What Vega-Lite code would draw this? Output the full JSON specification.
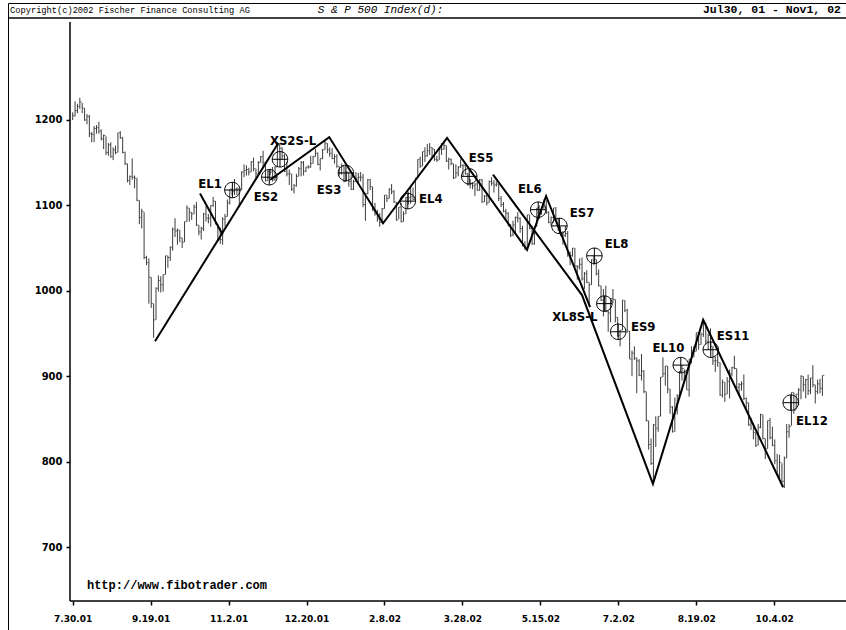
{
"$schema":"https://vega.github.io/schema/vega-lite/v6.json",
"width":845,"height":630,
"padding":{"left":8,"top":3,"right":0,"bottom":0},
"autosize":{"type":"none"},
"background":"white",
"config":{"view":{"stroke":"black","strokeWidth":1},
 "axisX":{"labelExpr":"['7.30.01','9.19.01','11.2.01','12.20.01','2.8.02','3.28.02','5.15.02','7.2.02','8.19.02','10.4.02'][round(datum.value/32.75)]",
    "domain":false,"grid":false,"offset":-32,"tickSize":4,"tickColor":"black","tickWidth":1.5,"labelPadding":9,
    "labelFont":"DejaVu Sans","labelFontWeight":"bold","labelFontSize":9,"labelColor":"black","labelOverlap":false,"titleOpacity":0},
 "axisY":{"domain":false,"grid":false,"offset":-62,"tickSize":4,"tickColor":"black","tickWidth":1.5,"labelPadding":4,
    "labelFont":"DejaVu Sans","labelFontWeight":"bold","labelFontSize":10,"labelColor":"black","titleOpacity":0}},
"datasets":{
"bars":[
{"i":0,"h":1209,"l":1200,"c":1205},{"i":1,"h":1222,"l":1204,"c":1211},{"i":2,"h":1219,"l":1208,"c":1216},{"i":3,"h":1226,"l":1213,"c":1221},{"i":4,"h":1220,"l":1208,"c":1214},
{"i":5,"h":1214,"l":1199,"c":1200},{"i":6,"h":1207,"l":1195,"c":1204},{"i":7,"h":1206,"l":1180,"c":1184},{"i":8,"h":1186,"l":1174,"c":1183},{"i":9,"h":1193,"l":1174,"c":1190},
{"i":10,"h":1194,"l":1184,"c":1191},{"i":11,"h":1198,"l":1184,"c":1187},{"i":12,"h":1189,"l":1176,"c":1178},{"i":13,"h":1183,"l":1166,"c":1182},{"i":14,"h":1181,"l":1159,"c":1162},
{"i":15,"h":1173,"l":1158,"c":1171},{"i":16,"h":1174,"l":1156,"c":1157},{"i":17,"h":1168,"l":1153,"c":1165},{"i":18,"h":1170,"l":1160,"c":1162},{"i":19,"h":1185,"l":1162,"c":1185},
{"i":20,"h":1187,"l":1178,"c":1179},{"i":21,"h":1180,"l":1161,"c":1162},{"i":22,"h":1163,"l":1147,"c":1149},{"i":23,"h":1149,"l":1127,"c":1129},{"i":24,"h":1135,"l":1124,"c":1134},
{"i":25,"h":1155,"l":1130,"c":1133},{"i":26,"h":1135,"l":1120,"c":1132},{"i":27,"h":1132,"l":1105,"c":1106},{"i":28,"h":1106,"l":1078,"c":1086},{"i":29,"h":1096,"l":1073,"c":1093},
{"i":30,"h":1092,"l":1037,"c":1039},{"i":31,"h":1041,"l":1030,"c":1033},{"i":32,"h":1038,"l":985,"c":1016},{"i":33,"h":1016,"l":980,"c":985},{"i":34,"h":985,"l":945,"c":966},
{"i":35,"h":1004,"l":966,"c":1003},{"i":36,"h":1018,"l":999,"c":1012},{"i":37,"h":1017,"l":998,"c":1007},{"i":38,"h":1019,"l":999,"c":1019},{"i":39,"h":1041,"l":1019,"c":1041},
{"i":40,"h":1041,"l":1027,"c":1039},{"i":41,"h":1052,"l":1035,"c":1051},{"i":42,"h":1074,"l":1047,"c":1072},{"i":43,"h":1085,"l":1063,"c":1070},{"i":44,"h":1073,"l":1054,"c":1071},
{"i":45,"h":1071,"l":1057,"c":1062},{"i":46,"h":1062,"l":1050,"c":1057},{"i":47,"h":1081,"l":1057,"c":1081},{"i":48,"h":1100,"l":1081,"c":1097},{"i":49,"h":1097,"l":1081,"c":1092},
{"i":50,"h":1092,"l":1083,"c":1090},{"i":51,"h":1101,"l":1090,"c":1098},{"i":52,"h":1104,"l":1076,"c":1077},{"i":53,"h":1077,"l":1065,"c":1069},{"i":54,"h":1075,"l":1060,"c":1073},
{"i":55,"h":1091,"l":1070,"c":1090},{"i":56,"h":1099,"l":1081,"c":1085},{"i":57,"h":1090,"l":1079,"c":1085},{"i":58,"h":1100,"l":1075,"c":1100},{"i":59,"h":1110,"l":1098,"c":1105},
{"i":60,"h":1105,"l":1078,"c":1078},{"i":61,"h":1078,"l":1058,"c":1060},{"i":62,"h":1074,"l":1055,"c":1060},{"i":63,"h":1086,"l":1054,"c":1084},{"i":64,"h":1090,"l":1075,"c":1087},
{"i":65,"h":1107,"l":1087,"c":1103},{"i":66,"h":1119,"l":1101,"c":1119},{"i":67,"h":1120,"l":1112,"c":1116},{"i":68,"h":1131,"l":1112,"c":1119},{"i":69,"h":1121,"l":1112,"c":1120},
{"i":70,"h":1120,"l":1098,"c":1118},{"i":71,"h":1140,"l":1118,"c":1139},{"i":72,"h":1148,"l":1133,"c":1141},{"i":73,"h":1147,"l":1135,"c":1142},{"i":74,"h":1144,"l":1135,"c":1139},
{"i":75,"h":1152,"l":1139,"c":1151},{"i":76,"h":1156,"l":1140,"c":1143},{"i":77,"h":1143,"l":1130,"c":1137},{"i":78,"h":1152,"l":1137,"c":1150},{"i":79,"h":1158,"l":1150,"c":1157},
{"i":80,"h":1164,"l":1144,"c":1150},{"i":81,"h":1150,"l":1128,"c":1129},{"i":82,"h":1141,"l":1129,"c":1140},{"i":83,"h":1143,"l":1135,"c":1139},{"i":84,"h":1145,"l":1128,"c":1130},
{"i":85,"h":1146,"l":1129,"c":1145},{"i":86,"h":1174,"l":1145,"c":1170},{"i":87,"h":1173,"l":1162,"c":1167},{"i":88,"h":1168,"l":1154,"c":1158},{"i":89,"h":1160,"l":1139,"c":1140},
{"i":90,"h":1151,"l":1134,"c":1137},{"i":91,"h":1142,"l":1124,"c":1137},{"i":92,"h":1137,"l":1117,"c":1119},{"i":93,"h":1125,"l":1114,"c":1123},{"i":94,"h":1137,"l":1122,"c":1134},
{"i":95,"h":1145,"l":1134,"c":1143},{"i":96,"h":1152,"l":1134,"c":1150},{"i":97,"h":1152,"l":1135,"c":1140},{"i":98,"h":1145,"l":1139,"c":1145},{"i":99,"h":1147,"l":1143,"c":1145},
{"i":100,"h":1158,"l":1144,"c":1149},{"i":101,"h":1158,"l":1149,"c":1157},{"i":102,"h":1166,"l":1157,"c":1161},{"i":103,"h":1162,"l":1147,"c":1148},{"i":104,"h":1155,"l":1141,"c":1155},
{"i":105,"h":1166,"l":1154,"c":1165},{"i":106,"h":1177,"l":1165,"c":1173},{"i":107,"h":1173,"l":1161,"c":1165},{"i":108,"h":1168,"l":1157,"c":1161},{"i":109,"h":1167,"l":1154,"c":1155},
{"i":110,"h":1160,"l":1149,"c":1157},{"i":111,"h":1160,"l":1144,"c":1146},{"i":112,"h":1146,"l":1135,"c":1138},{"i":113,"h":1149,"l":1136,"c":1146},{"i":114,"h":1146,"l":1127,"c":1128},
{"i":115,"h":1140,"l":1128,"c":1139},{"i":116,"h":1139,"l":1122,"c":1128},{"i":117,"h":1136,"l":1118,"c":1119},{"i":118,"h":1130,"l":1118,"c":1128},{"i":119,"h":1139,"l":1128,"c":1132},
{"i":120,"h":1138,"l":1127,"c":1133},{"i":121,"h":1139,"l":1128,"c":1133},{"i":122,"h":1137,"l":1098,"c":1101},{"i":123,"h":1114,"l":1082,"c":1114},{"i":124,"h":1131,"l":1113,"c":1130},
{"i":125,"h":1131,"l":1118,"c":1122},{"i":126,"h":1122,"l":1094,"c":1094},{"i":127,"h":1103,"l":1088,"c":1090},{"i":128,"h":1095,"l":1081,"c":1084},{"i":129,"h":1091,"l":1075,"c":1080},
{"i":130,"h":1097,"l":1080,"c":1096},{"i":131,"h":1112,"l":1096,"c":1112},{"i":132,"h":1112,"l":1104,"c":1108},{"i":133,"h":1120,"l":1108,"c":1119},{"i":134,"h":1125,"l":1113,"c":1116},
{"i":135,"h":1118,"l":1103,"c":1104},{"i":136,"h":1104,"l":1082,"c":1083},{"i":137,"h":1098,"l":1084,"c":1098},{"i":138,"h":1103,"l":1080,"c":1081},{"i":139,"h":1093,"l":1081,"c":1090},
{"i":140,"h":1110,"l":1090,"c":1109},{"i":141,"h":1116,"l":1101,"c":1109},{"i":142,"h":1123,"l":1102,"c":1110},{"i":143,"h":1121,"l":1106,"c":1107},{"i":144,"h":1132,"l":1106,"c":1132},
{"i":145,"h":1154,"l":1132,"c":1154},{"i":146,"h":1157,"l":1144,"c":1146},{"i":147,"h":1163,"l":1146,"c":1163},{"i":148,"h":1168,"l":1151,"c":1158},{"i":149,"h":1172,"l":1157,"c":1164},
{"i":150,"h":1173,"l":1159,"c":1168},{"i":151,"h":1168,"l":1155,"c":1166},{"i":152,"h":1166,"l":1152,"c":1154},{"i":153,"h":1158,"l":1151,"c":1153},{"i":154,"h":1166,"l":1153,"c":1166},
{"i":155,"h":1173,"l":1159,"c":1166},{"i":156,"h":1174,"l":1165,"c":1170},{"i":157,"h":1170,"l":1151,"c":1152},{"i":158,"h":1156,"l":1142,"c":1154},{"i":159,"h":1155,"l":1147,"c":1149},
{"i":160,"h":1149,"l":1131,"c":1132},{"i":161,"h":1148,"l":1132,"c":1138},{"i":162,"h":1146,"l":1134,"c":1145},{"i":163,"h":1154,"l":1144,"c":1147},{"i":164,"h":1148,"l":1134,"c":1147},
{"i":165,"h":1147,"l":1136,"c":1137},{"i":166,"h":1138,"l":1123,"c":1125},{"i":167,"h":1131,"l":1120,"c":1126},{"i":168,"h":1127,"l":1119,"c":1123},{"i":169,"h":1126,"l":1111,"c":1125},
{"i":170,"h":1131,"l":1117,"c":1118},{"i":171,"h":1131,"l":1117,"c":1130},{"i":172,"h":1131,"l":1103,"c":1104},{"i":173,"h":1112,"l":1104,"c":1111},{"i":174,"h":1114,"l":1100,"c":1103},
{"i":175,"h":1129,"l":1103,"c":1128},{"i":176,"h":1133,"l":1123,"c":1126},{"i":177,"h":1130,"l":1115,"c":1124},{"i":178,"h":1128,"l":1122,"c":1125},{"i":179,"h":1125,"l":1105,"c":1108},
{"i":180,"h":1111,"l":1098,"c":1101},{"i":181,"h":1104,"l":1092,"c":1093},{"i":182,"h":1096,"l":1084,"c":1091},{"i":183,"h":1092,"l":1076,"c":1076},{"i":184,"h":1078,"l":1063,"c":1065},
{"i":185,"h":1082,"l":1064,"c":1077},{"i":186,"h":1087,"l":1066,"c":1086},{"i":187,"h":1092,"l":1080,"c":1085},{"i":188,"h":1086,"l":1068,"c":1073},{"i":189,"h":1076,"l":1052,"c":1053},
{"i":190,"h":1058,"l":1048,"c":1049},{"i":191,"h":1089,"l":1050,"c":1089},{"i":192,"h":1089,"l":1072,"c":1073},{"i":193,"h":1076,"l":1054,"c":1055},{"i":194,"h":1075,"l":1054,"c":1075},
{"i":195,"h":1097,"l":1075,"c":1097},{"i":196,"h":1100,"l":1084,"c":1091},{"i":197,"h":1099,"l":1089,"c":1098},{"i":198,"h":1107,"l":1096,"c":1107},{"i":199,"h":1106,"l":1090,"c":1092},
{"i":200,"h":1093,"l":1079,"c":1080},{"i":201,"h":1087,"l":1076,"c":1086},{"i":202,"h":1097,"l":1080,"c":1097},{"i":203,"h":1098,"l":1083,"c":1084},{"i":204,"h":1085,"l":1070,"c":1075},
{"i":205,"h":1075,"l":1064,"c":1068},{"i":206,"h":1070,"l":1054,"c":1065},{"i":207,"h":1076,"l":1063,"c":1067},{"i":208,"h":1070,"l":1040,"c":1041},{"i":209,"h":1046,"l":1030,"c":1041},
{"i":210,"h":1050,"l":1040,"c":1050},{"i":211,"h":1050,"l":1028,"c":1029},{"i":212,"h":1030,"l":1013,"c":1028},{"i":213,"h":1038,"l":1025,"c":1031},{"i":214,"h":1039,"l":1012,"c":1014},
{"i":215,"h":1022,"l":1002,"c":1020},{"i":216,"h":1024,"l":1009,"c":1010},{"i":217,"h":1010,"l":982,"c":1007},{"i":218,"h":1037,"l":1007,"c":1036},{"i":219,"h":1041,"l":1030,"c":1037},
{"i":220,"h":1037,"l":1018,"c":1020},{"i":221,"h":1025,"l":1005,"c":1006},{"i":222,"h":1006,"l":988,"c":989},{"i":223,"h":1002,"l":970,"c":993},{"i":224,"h":1006,"l":975,"c":976},
{"i":225,"h":977,"l":952,"c":974},{"i":226,"h":991,"l":963,"c":991},{"i":227,"h":1002,"l":986,"c":990},{"i":228,"h":990,"l":963,"c":969},{"i":229,"h":969,"l":946,"c":948},
{"i":230,"h":954,"l":935,"c":954},{"i":231,"h":989,"l":954,"c":989},{"i":232,"h":989,"l":975,"c":977},{"i":233,"h":979,"l":951,"c":953},{"i":234,"h":953,"l":920,"c":920},
{"i":235,"h":930,"l":900,"c":927},{"i":236,"h":935,"l":919,"c":921},{"i":237,"h":922,"l":880,"c":918},{"i":238,"h":920,"l":900,"c":901},{"i":239,"h":926,"l":895,"c":906},
{"i":240,"h":907,"l":880,"c":882},{"i":241,"h":882,"l":847,"c":848},{"i":242,"h":848,"l":814,"c":820},{"i":243,"h":827,"l":796,"c":798},{"i":244,"h":844,"l":776,"c":843},
{"i":245,"h":853,"l":817,"c":839},{"i":246,"h":853,"l":835,"c":853},{"i":247,"h":899,"l":853,"c":899},{"i":248,"h":922,"l":899,"c":903},{"i":249,"h":912,"l":889,"c":912},
{"i":250,"h":912,"l":880,"c":885},{"i":251,"h":885,"l":856,"c":864},{"i":252,"h":865,"l":834,"c":835},{"i":253,"h":875,"l":835,"c":860},{"i":254,"h":879,"l":855,"c":877},
{"i":255,"h":906,"l":875,"c":905},{"i":256,"h":913,"l":895,"c":909},{"i":257,"h":908,"l":893,"c":904},{"i":258,"h":904,"l":884,"c":884},{"i":259,"h":920,"l":876,"c":920},
{"i":260,"h":935,"l":915,"c":930},{"i":261,"h":935,"l":922,"c":929},{"i":262,"h":951,"l":929,"c":951},{"i":263,"h":950,"l":931,"c":937},{"i":264,"h":951,"l":937,"c":949},
{"i":265,"h":965,"l":946,"c":963},{"i":266,"h":963,"l":937,"c":941},{"i":267,"h":950,"l":931,"c":948},{"i":268,"h":956,"l":931,"c":935},{"i":269,"h":935,"l":913,"c":918},
{"i":270,"h":923,"l":905,"c":918},{"i":271,"h":928,"l":911,"c":916},{"i":272,"h":916,"l":877,"c":878},{"i":273,"h":896,"l":875,"c":893},{"i":274,"h":893,"l":870,"c":879},
{"i":275,"h":899,"l":879,"c":894},{"i":276,"h":908,"l":874,"c":903},{"i":277,"h":911,"l":900,"c":910},{"i":278,"h":924,"l":908,"c":909},{"i":279,"h":909,"l":886,"c":887},
{"i":280,"h":892,"l":879,"c":890},{"i":281,"h":894,"l":883,"c":891},{"i":282,"h":902,"l":872,"c":874},{"i":283,"h":875,"l":862,"c":869},{"i":284,"h":869,"l":842,"c":843},
{"i":285,"h":851,"l":837,"c":845},{"i":286,"h":845,"l":826,"c":834},{"i":287,"h":834,"l":817,"c":819},{"i":288,"h":844,"l":819,"c":840},{"i":289,"h":856,"l":839,"c":855},
{"i":290,"h":855,"l":826,"c":827},{"i":291,"h":827,"l":803,"c":815},{"i":292,"h":848,"l":815,"c":848},{"i":293,"h":851,"l":826,"c":828},{"i":294,"h":841,"l":818,"c":819},
{"i":295,"h":826,"l":797,"c":801},{"i":296,"h":809,"l":784,"c":785},{"i":297,"h":808,"l":780,"c":799},{"i":298,"h":798,"l":775,"c":777},{"i":299,"h":806,"l":769,"c":804},
{"i":300,"h":844,"l":804,"c":835},{"i":301,"h":844,"l":828,"c":841},{"i":302,"h":881,"l":842,"c":881},{"i":303,"h":881,"l":856,"c":860},{"i":304,"h":879,"l":861,"c":879},
{"i":305,"h":886,"l":866,"c":884},{"i":306,"h":901,"l":873,"c":900},{"i":307,"h":900,"l":882,"c":890},{"i":308,"h":897,"l":874,"c":896},{"i":309,"h":902,"l":878,"c":883},
{"i":310,"h":898,"l":879,"c":898},{"i":311,"h":913,"l":887,"c":890},{"i":312,"h":890,"l":868,"c":882},{"i":313,"h":896,"l":879,"c":891},{"i":314,"h":897,"l":880,"c":886},
{"i":315,"h":901,"l":877,"c":901}
],
"zig":[
{"s":"a","i":34.6,"p":941},{"s":"a","i":86.4,"p":1173},
{"s":"b","i":53.5,"p":1114},{"s":"b","i":63,"p":1066},
{"s":"c","i":83,"p":1130},{"s":"c","i":107.8,"p":1180},{"s":"c","i":130.4,"p":1079},{"s":"c","i":157.3,"p":1179},{"s":"c","i":190.9,"p":1048},{"s":"c","i":198.9,"p":1111},{"s":"c","i":217.4,"p":981},
{"s":"d","i":176.6,"p":1136},{"s":"d","i":214,"p":995},{"s":"d","i":243.8,"p":774},{"s":"d","i":264.9,"p":966},{"s":"d","i":298.5,"p":770}
],
"circ":[
{"i":67.1,"p":1118},{"i":82.6,"p":1133},{"i":87.1,"p":1154},{"i":114.8,"p":1138},{"i":140.8,"p":1105},{"i":166.6,"p":1134},{"i":195.6,"p":1095},
{"i":204.5,"p":1076},{"i":219.2,"p":1041},{"i":223.4,"p":985},{"i":229.2,"p":952},{"i":255.5,"p":913},{"i":268.1,"p":931},{"i":301.7,"p":869}
],
"lab":[
{"i":57.7,"p":1125,"t":"EL1"},{"i":81.2,"p":1110,"t":"ES2"},{"i":92.6,"p":1175,"t":"XS2S-L"},{"i":107.7,"p":1118,"t":"ES3"},{"i":150.5,"p":1107,"t":"EL4"},
{"i":171.6,"p":1156,"t":"ES5"},{"i":192.1,"p":1119,"t":"EL6"},{"i":214,"p":1091,"t":"ES7"},{"i":228.5,"p":1055,"t":"EL8"},{"i":211,"p":969,"t":"XL8S-L"},
{"i":239.7,"p":958,"t":"ES9"},{"i":250.3,"p":933,"t":"EL10"},{"i":277.5,"p":947,"t":"ES11"},{"i":310.6,"p":847,"t":"EL12"}
]
},
"layer":[
{"data":{"name":"bars"},"mark":{"type":"rule","color":"#3c3c3c","strokeWidth":1},
 "encoding":{
  "x":{"field":"i","type":"quantitative","scale":{"domain":[-27.18,327.86],"nice":false,"zero":false},
   "axis":{"values":[0,32.75,65.5,98.25,131,163.75,196.5,229.25,262,294.75],"title":null}},
  "y":{"field":"l","type":"quantitative","scale":{"domain":[599.3,1337],"nice":false,"zero":false},
   "axis":{"values":[700,800,900,1000,1100,1200],"format":"d","title":null}},
  "y2":{"field":"h"}}},
{"data":{"name":"bars"},"mark":{"type":"tick","orient":"horizontal","color":"#3c3c3c","size":2,"thickness":1,"xOffset":1},
 "encoding":{
  "x":{"field":"i","type":"quantitative"},
  "y":{"field":"c","type":"quantitative"}}},
{"data":{"name":"zig"},"mark":{"type":"line","color":"black","strokeWidth":2},
 "encoding":{
  "x":{"field":"i","type":"quantitative"},
  "y":{"field":"p","type":"quantitative"},
  "detail":{"field":"s"}}},
{"data":{"name":"circ"},"mark":{"type":"point","shape":"M-1,0A1,1,0,1,1,1,0A1,1,0,1,1,-1,0ZM-1,0L1,0M0,-1L0,1","size":240,"filled":false,"stroke":"black","strokeWidth":1,"opacity":1},
 "encoding":{
  "x":{"field":"i","type":"quantitative"},
  "y":{"field":"p","type":"quantitative"}}},
{"data":{"name":"lab"},"mark":{"type":"text","font":"Liberation Sans Narrow, DejaVu Sans Condensed, sans-serif","fontWeight":"bold","fontSize":13,"color":"black","align":"center","baseline":"middle"},
 "encoding":{
  "x":{"field":"i","type":"quantitative"},
  "y":{"field":"p","type":"quantitative"},
  "text":{"field":"t"}}},
{"data":{"values":[{"i":-1.13,"p1":636.8,"p2":1314.8}]},"mark":{"type":"rule","color":"black","strokeWidth":1.5},
 "encoding":{
  "x":{"field":"i","type":"quantitative"},
  "y":{"field":"p1","type":"quantitative"},
  "y2":{"field":"p2"}}},
{"data":{"values":[{"i1":-1.13,"i2":327.86,"p":636.8},{"i1":-27.18,"i2":327.86,"p":1319.4}]},"mark":{"type":"rule","color":"black","strokeWidth":1.5},
 "encoding":{
  "x":{"field":"i1","type":"quantitative"},
  "x2":{"field":"i2"},
  "y":{"field":"p","type":"quantitative"}}},
{"data":{"values":[{"i":-26.3,"p":1329,"t":"Copyright(c)2002 Fischer Finance Consulting AG"}]},"mark":{"type":"text","font":"Liberation Mono","fontSize":8.7,"color":"black","align":"left","baseline":"middle"},
 "encoding":{
  "x":{"field":"i","type":"quantitative"},
  "y":{"field":"p","type":"quantitative"},
  "text":{"field":"t"}}},
{"data":{"values":[{"i":103,"p":1329,"t":"S & P 500 Index(d):"}]},"mark":{"type":"text","font":"Liberation Mono","fontStyle":"italic","fontSize":11,"color":"black","align":"left","baseline":"middle"},
 "encoding":{
  "x":{"field":"i","type":"quantitative"},
  "y":{"field":"p","type":"quantitative"},
  "text":{"field":"t"}}},
{"data":{"values":[{"i":322.8,"p":1329,"t":"Jul30, 01 - Nov1, 02"}]},"mark":{"type":"text","font":"Liberation Mono","fontWeight":"bold","fontSize":11.5,"color":"black","align":"right","baseline":"middle"},
 "encoding":{
  "x":{"field":"i","type":"quantitative"},
  "y":{"field":"p","type":"quantitative"},
  "text":{"field":"t"}}},
{"data":{"values":[{"i":6,"p":655.4,"t":"http://www.fibotrader.com"}]},"mark":{"type":"text","font":"Liberation Mono","fontWeight":"bold","fontSize":12,"color":"black","align":"left","baseline":"middle"},
 "encoding":{
  "x":{"field":"i","type":"quantitative"},
  "y":{"field":"p","type":"quantitative"},
  "text":{"field":"t"}}}
]
}
